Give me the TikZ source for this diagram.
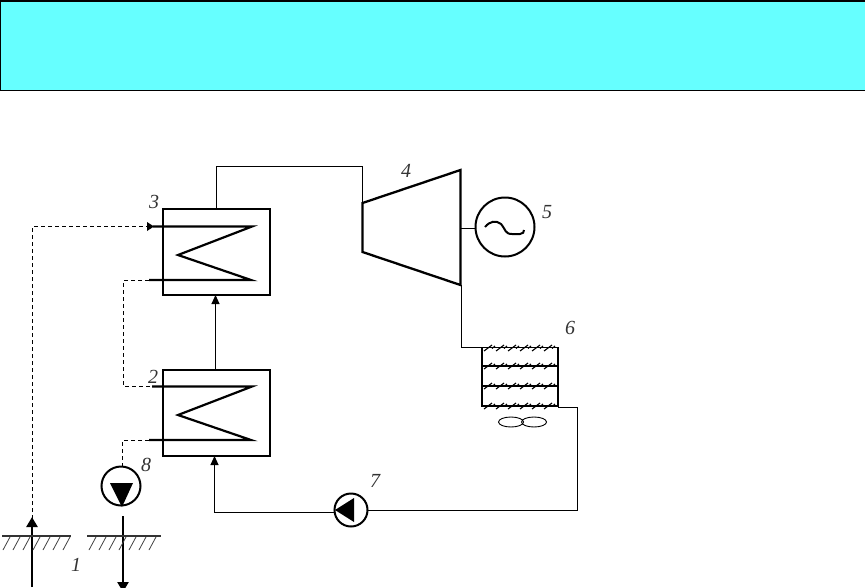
\documentclass[tikz,border=0pt]{standalone}
\usepackage{fontspec}
\setmainfont{Liberation Serif}
\usetikzlibrary{arrows.meta,shapes.geometric}
\definecolor{banner}{HTML}{66FFFF}
\tikzset{
  box/.style={draw,line width=2.2pt,minimum width=107pt,minimum height=86pt,inner sep=0pt,outer sep=0pt},
  coil/.style={line width=2.2pt,line join=miter},
  pipe/.style={line width=1pt},
  dashpipe/.style={line width=1pt,dash pattern=on 4pt off 3pt},
  headpipe/.style={pipe,-{Triangle[length=9pt,width=8pt]}},
  well/.style={line width=2.6pt,-{Triangle[length=10pt,width=11pt]}},
  lab/.style={font=\itshape\fontsize{20}{20}\selectfont,text=black!80,inner sep=0pt},
  disc/.style={circle,draw,line width=2pt,inner sep=0pt,outer sep=0pt},
  hatch/.style={line width=0.8pt},
  tick/.style={line width=1.1pt},
  fan/.style={draw,ellipse,line width=0.9pt,minimum width=25pt,minimum height=10pt,inner sep=0pt}
}
\begin{document}
\begin{tikzpicture}[x=1pt,y=-1pt]
\useasboundingbox (0,0) rectangle (865,587);
\node[draw,fill=banner,line width=1.6pt,minimum width=865pt,minimum height=89.5pt,inner sep=0pt,outer sep=0pt,anchor=north west] (banner) at (0.5,1) {};

% heat exchangers
\node[box] (hxb) at (216.5,252) {};
\node[box] (hxa) at (216.5,413) {};
\draw[coil] (153,226.5) -- (252,226.5) -- (178,255) -- (251,280) -- (149,280);
\draw[coil] (152,386.5) -- (252,386.5) -- (178,415) -- (251,440) -- (149,440);

% turbine, generator
\coordinate (tA) at (362.5,203);
\coordinate (tB) at (460.5,170);
\coordinate (tC) at (460.5,285);
\coordinate (tD) at (362.5,252);
\draw[line width=2.3pt,line join=miter] (tA) -- (tB) -- (tC) -- (tD) -- cycle;
\node[disc,minimum size=59pt] (gen) at (505,227) {};
\draw[line width=2pt] (485,227) .. controls (490,221) and (496,220) .. (501,224)
  .. controls (506,230) and (505,234) .. (512,234) -- (520,234) .. controls (523,234) and (524,232) .. (524,230);
\coordinate (shaft) at (460,228.5);
\draw[pipe] (shaft) -- (gen.west |- shaft);

% condenser
\node[draw,line width=1.3pt,minimum width=76pt,minimum height=59pt,inner sep=0pt,outer sep=0pt] (cond) at (520,377) {};
\foreach \y in {366,386,406} \draw[line width=1.6pt] (482,\y) -- (558,\y);
\foreach \y in {348,366,386,406}
  \foreach \x in {488,500,512,524,536,548}
    \draw[tick] (\x-4,\y+3) -- (\x+4,\y-3);
\foreach \y in {348,366,386,406}
  \foreach \x in {493,505,517,529,541,553}
    \draw[tick] (\x-1,\y+0.5) -- (\x+2,\y-2);
\node[fan] (fanA) at (511,422) {};
\node[fan] (fanB) at (534,422) {};

% pumps
\node[disc,minimum size=33pt] (pumpb) at (351,510) {};
\fill (335,510) -- (354,498) -- (354,522) -- cycle;
\node[disc,minimum size=39pt] (pumpa) at (121,486) {};
\fill (110,483) -- (133,483) -- (122,507) -- cycle;

% closed loop
\coordinate (c1) at (216.5,166.5);
\coordinate (c2) at (362.5,166.5);
\draw[pipe] (hxb.north -| c1) -- (c1) -- (c2) -- (tA);
\coordinate (c3) at (461.5,347.5);
\coordinate (c3b) at (482,347.5);
\draw[pipe] (tC -| c3) -- (c3) -- (c3b);
\coordinate (c4a) at (558,407.5);
\coordinate (c4) at (577.5,407.5);
\coordinate (c5) at (577.5,510.5);
\draw[pipe] (c4a) -- (c4) -- (c5) -- (pumpb.east |- c5);
\coordinate (c6) at (214.5,512.5);
\draw[headpipe] (pumpb.west |- c6) -- (c6) -- (hxa.south -| c6);
\coordinate (c7) at (215.5,0);
\draw[headpipe] (hxa.north -| c7) -- (hxb.south -| c7);

% brine (dashed)
\coordinate (d1) at (32.5,226.5);
\coordinate (d2) at (32.5,519);
\coordinate (hIn) at (153,226.5);
\draw[dashpipe] (d2) -- (d1) -- (hIn);
\fill (154,226.5) -- (147,222) -- (147,231) -- cycle;
\coordinate (d3) at (149,280.5);
\coordinate (d4) at (123.5,280.5);
\coordinate (d5) at (123.5,386.5);
\coordinate (d6) at (152,386.5);
\draw[dashpipe] (d3) -- (d4) -- (d5) -- (d6);
\coordinate (d7) at (149,440.5);
\coordinate (d8) at (122.5,440.5);
\draw[dashpipe] (d7) -- (d8) -- (pumpa.north -| d8);

% wells
\coordinate (wa) at (32,587);
\coordinate (wb) at (32,517);
\draw[well] (wa) -- (wb);
\coordinate (wc) at (123,516);
\coordinate (wd) at (123,592);
\draw[well] (wc) -- (wd);
\draw[line width=1.2pt,black!80] (2,536) -- (71,536);
\draw[line width=1.2pt,black!80] (87,536) -- (161,536);
\foreach \x in {2,12,22,32,42,52,62}
  \draw[hatch,black!75] (\x+1,550) -- (\x+8,537);
\foreach \x in {88,98,108,118,128,138,148}
  \draw[hatch,black!75] (\x+1,550) -- (\x+8,537);

% labels
\node[lab] (l1) at (76,565) {1};
\node[lab] (l2) at (153,377) {2};
\node[lab] (l3) at (154,202) {3};
\node[lab] (l4) at (406,171) {4};
\node[lab] (l5) at (547,212) {5};
\node[lab] (l6) at (570,328) {6};
\node[lab] (l7) at (375,481) {7};
\node[lab] (l8) at (146,465) {8};
\end{tikzpicture}
\end{document}
